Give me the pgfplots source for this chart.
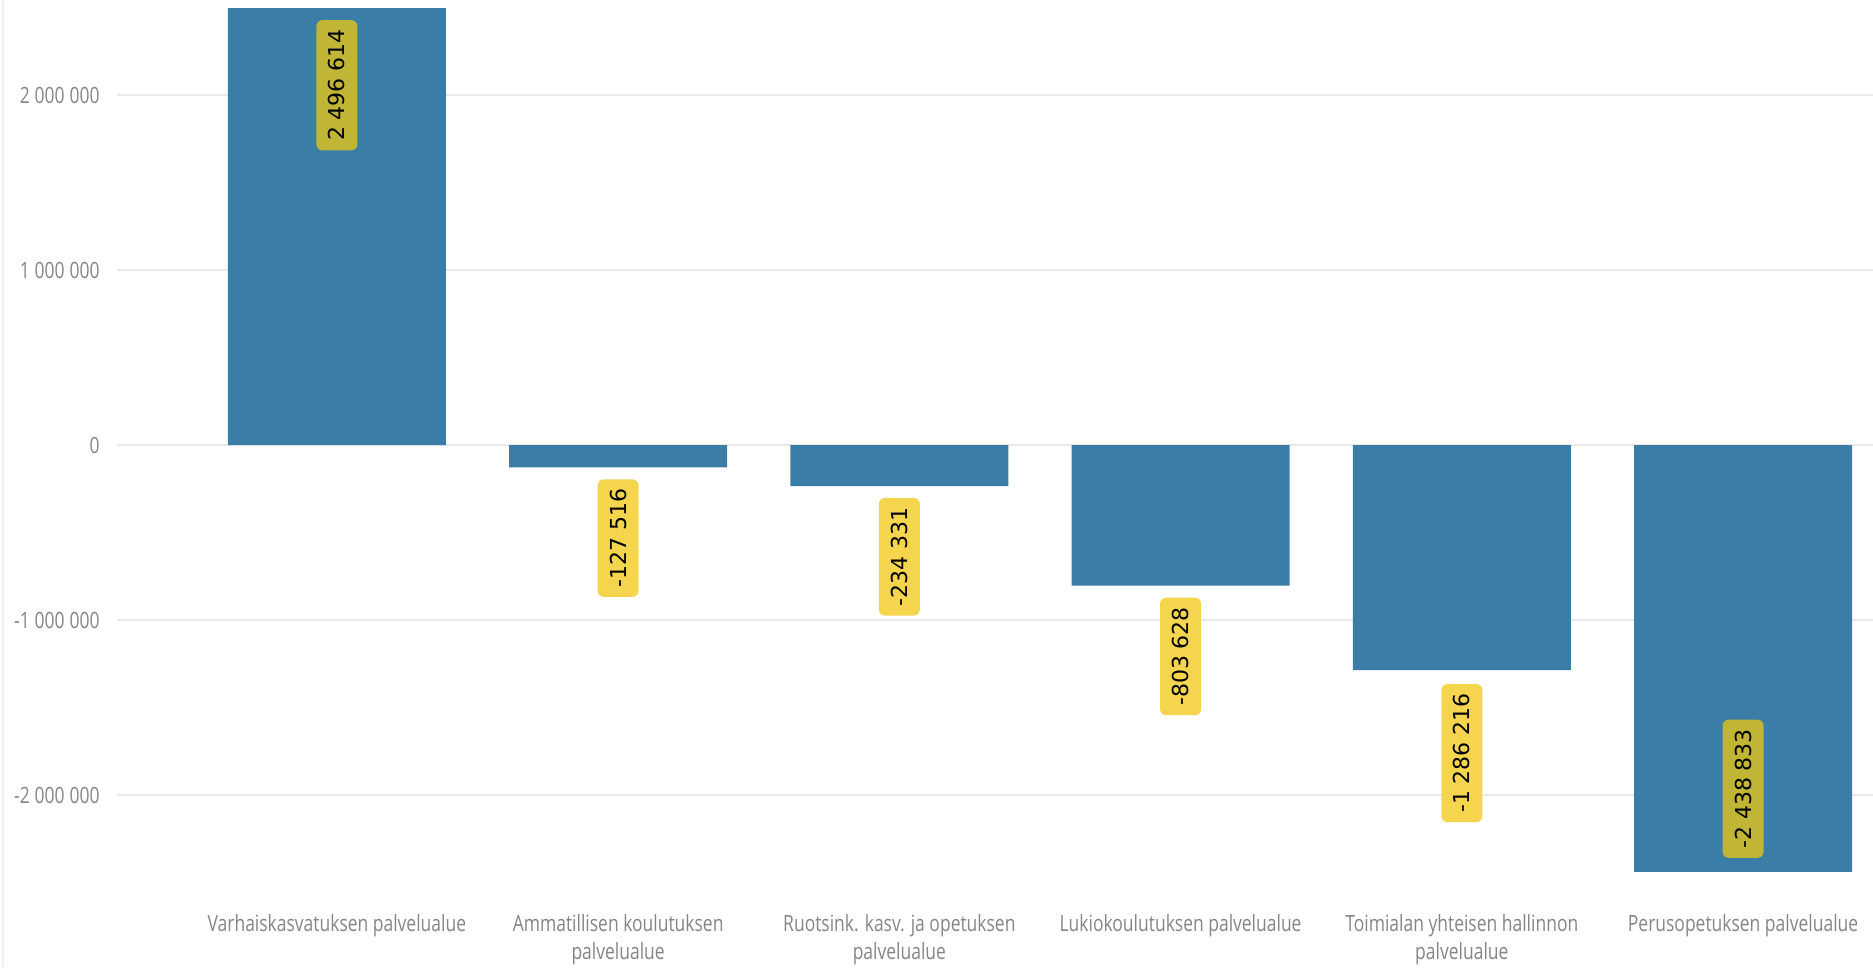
\documentclass[border=0pt]{standalone}
\usepackage{fontspec}
\usepackage{pgfplots}
\pgfplotsset{compat=1.18}
\setmainfont{Open Sans}
\newfontfamily\axisfont[FakeStretch=0.78]{Open Sans}
\newfontfamily\valfont{DejaVu Sans}

\definecolor{barblue}{HTML}{3A7DA6}
\definecolor{lblyellow}{HTML}{F5D54E}
\definecolor{lblolive}{HTML}{C1B536}
\definecolor{ticktxt}{HTML}{858585}
\definecolor{gridc}{HTML}{E9E9E9}

\pgfplotsset{
  vallabel/.style={
    draw=none,
    nodes near coords={\pgfmathprintnumber[fixed,precision=0,1000 sep={\hspace{0.3em}},assume math mode=true]{\pgfplotspointmeta}},
    every node near coord/.append style={
      font=\valfont\fontsize{11}{13}\selectfont, text=black,
      rotate=90, rounded corners=3pt,
      text height=8pt, text depth=0pt,
      inner xsep=4.75pt, inner ysep=6.25pt},
  },
}

\begin{document}
\begin{tikzpicture}
\begin{axis}[
    scale only axis,
    width=878pt,
    height=441.25pt,
    xmin=-0.782, xmax=5.462,
    ymin=-2500000, ymax=2542900,
    axis line style={draw=none},
    tick style={draw=none},
    ymajorgrids,
    major grid style={gridc, line width=0.9pt},
    ytick={-2000000,-1000000,0,1000000,2000000},
    scaled y ticks=false,
    yticklabel={\pgfmathprintnumber[fixed,precision=0,1000 sep={\hspace{0.22em}},assume math mode=true]{\tick}},
    yticklabel style={font=\axisfont\fontsize{11.2}{13}\selectfont, text=ticktxt, anchor=east, inner sep=0pt, xshift=-8.5pt},
    xtick={0,1,2,3,4,5},
    xticklabels={
      {Varhaiskasvatuksen palvelualue},
      {Ammatillisen koulutuksen\\palvelualue},
      {Ruotsink. kasv. ja opetuksen\\palvelualue},
      {Lukiokoulutuksen palvelualue},
      {Toimialan yhteisen hallinnon\\palvelualue},
      {Perusopetuksen palvelualue}},
    xticklabel style={font=\axisfont\fontsize{11.2}{14}\selectfont, text=ticktxt, align=center, anchor=north, inner sep=0pt, yshift=-16pt},
    clip=false,
]
% bars
\addplot[ybar, bar width=109pt, fill=barblue, draw=none] coordinates {
  (0,2496614) (1,-127516) (2,-234331) (3,-803628) (4,-1286216) (5,-2438833)};
% labels below the end of the bar, outside
\addplot[vallabel, every node near coord/.append style={fill=lblyellow, anchor=east, outer xsep=6pt}] coordinates {
  (1,-127516) (2,-234331) (3,-803628)};
\addplot[vallabel, every node near coord/.append style={fill=lblyellow, anchor=east, outer xsep=7pt}] coordinates {
  (4,-1286216)};
% labels inside the bar end
\addplot[vallabel, every node near coord/.append style={fill=lblolive, anchor=east, outer xsep=6pt}] coordinates {
  (0,2496614)};
\addplot[vallabel, every node near coord/.append style={fill=lblolive, anchor=west, outer xsep=7pt}] coordinates {
  (5,-2438833)};
\draw[gridc!70, line width=0.8pt] (axis description cs:-0.0649,-0.0958) -- (axis description cs:-0.0649,1);
\coordinate (bbll) at (axis description cs:-0.0666,-0.0958);
\coordinate (bbur) at (axis description cs:1,1);
\end{axis}
\pgfresetboundingbox
\path[use as bounding box] (bbll) rectangle (bbur);
\end{tikzpicture}
\end{document}
